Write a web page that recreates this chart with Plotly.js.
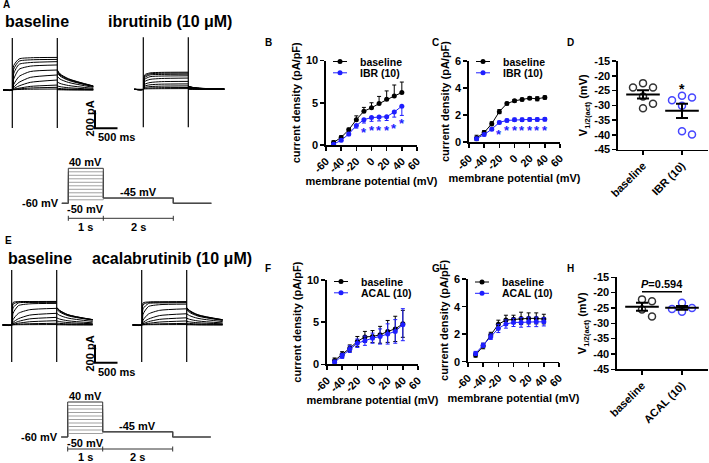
<!DOCTYPE html>
<html><head><meta charset="utf-8">
<script src="https://cdn.plot.ly/plotly-3.0.1.min.js"></script>
<style>html,body{margin:0;padding:0;background:#fff}#chart{width:709px;height:463px}</style>
</head><body><div id="chart"></div>
<script>
// ================= DATA =================
const voltages = [-50,-40,-30,-20,-10,0,10,20,30,40];   // test potentials (mV)

// Panel B – ibrutinib I-V
const B_baseline        = [0.3,0.9,1.8,3.0,4.0,4.4,4.9,5.4,5.8,6.2];
const B_baseline_errUp  = [0.2,0.2,0.2,0.45,0.45,0.6,0.85,1.0,1.3,1.25];
const B_ibr             = [0.1,0.55,1.3,2.3,3.0,3.25,3.3,3.35,3.9,4.6];
const B_ibr_errDown     = [0.1,0.15,0.2,0.3,0.4,0.45,0.45,0.45,0.6,1.1];
const B_starV           = [-10,0,10,20,30,40];
const B_starY           = [1.95,2.1,2.1,2.1,2.4,3.0];

// Panel C – ibrutinib I-V (second cell group)
const C_baseline     = [0.3,0.7,1.35,2.25,2.85,3.05,3.15,3.25,3.2,3.3];
const C_baseline_err = [0.2,0.15,0.15,0.15,0.1,0.1,0.1,0.1,0.15,0.12];
const C_ibr          = [0.25,0.55,0.95,1.45,1.6,1.65,1.65,1.67,1.67,1.68];
const C_ibr_err      = [0.1,0.1,0.1,0.1,0.1,0.12,0.12,0.12,0.12,0.12];
const C_starV        = [-20,-10,0,10,20,30,40];
const C_starY        = [0.85,1.1,1.1,1.1,1.1,1.1,1.1];

// Panel D – V1/2 of activation
const D_categories = ['baseline','IBR (10)'];
const D_baseline   = [-22.5,-24.0,-24.0,-27.0,-29.5,-31.0];
const D_ibr        = [-26.8,-27.4,-28.3,-30.2,-38.8,-39.9];
const D_starY      = -23.2;

// Panel F – acalabrutinib I-V
const F_baseline     = [0.45,1.15,1.9,2.7,3.25,3.3,3.5,3.9,4.2,4.8];
const F_baseline_err = [0.3,0.35,0.4,0.6,0.65,0.7,1.0,1.3,1.5,1.6];
const F_acal         = [0.25,1.0,1.8,2.5,2.8,3.1,3.3,3.6,3.9,4.7];
const F_acal_err     = [0.25,0.3,0.4,0.5,0.55,0.6,0.9,1.2,1.4,1.9];

// Panel G – acalabrutinib I-V
const G_baseline     = [0.48,1.14,1.94,2.72,3.03,3.08,3.15,3.15,3.15,3.1];
const G_baseline_err = [0.15,0.2,0.2,0.3,0.35,0.3,0.45,0.4,0.4,0.35];
const G_acal         = [0.6,1.2,1.82,2.42,2.74,2.86,2.86,2.9,2.9,2.9];
const G_acal_err     = [0.15,0.15,0.2,0.3,0.3,0.3,0.35,0.35,0.35,0.3];

// Panel H
const H_categories = ['baseline','ACAL (10)'];
const H_baseline   = [-22.2,-22.8,-25.5,-27.8];
const H_acal       = [-23.3,-25.0,-25.3,-26.2];
const H_pText      = '<i>P</i>=0.594';
const H_pLineY     = -19.7;
const H_pTextY     = -17.1;

// Raw current recordings (pA) sampled at these times
const tracePre    = -200;                 // ms before step
const stepSampleT = [30,150,400,1000];    // ms after step onset
const tailSampleT = [0,60,250,800];       // ms after step end
const A_base_step = [[3,6,9,11],[5,12,22,30],[8,20,40,55],[15,45,85,111],[30,85,140,167],[60,150,205,222],[120,230,265,278],[180,285,305,315],[230,320,335,340],[270,345,358,362]];
const A_base_tail = [[3,2,1,0],[8,7,4,2],[20,16,11,4],[45,37,25,9],[90,73,50,18],[150,122,84,30],[190,155,107,38],[205,166,115,41],[215,174,121,43],[222,180,125,45]];
const A_ibr_step  = [[4,6,7,8],[10,15,18,20],[20,30,35,38],[35,50,57,60],[55,75,85,88],[85,110,120,125],[110,140,147,150],[130,160,165,168],[145,172,178,180],[160,182,188,190]];
const A_ibr_tail  = [[1,1,0,0],[3,2,1,0],[6,4,2,1],[12,8,4,1],[20,14,6,2],[28,19,9,3],[32,22,10,3],[35,24,11,4],[36,24,12,4],[37,25,12,4]];
const E_base_step = [[2,3,4,5],[4,9,14,19],[8,20,36,48],[15,40,68,85],[30,70,110,130],[60,130,170,185],[130,215,235,240],[190,245,250,252],[230,255,257,258],[250,260,261,262]];
const E_base_tail = [[2,2,1,1],[8,7,5,3],[22,18,13,7],[45,38,27,14],[80,67,47,24],[130,109,77,40],[175,147,103,54],[188,158,110,58],[193,162,113,59],[196,165,115,60]];
const E_acal_step = [[2,3,4,5],[4,8,13,18],[8,18,33,45],[14,37,63,80],[28,66,105,125],[55,122,163,180],[120,205,226,232],[180,238,245,248],[225,250,253,255],[245,256,258,260]];
const E_acal_tail = [[2,2,1,1],[7,6,4,2],[20,17,12,6],[42,35,25,13],[76,64,45,23],[125,105,74,38],[168,141,99,51],[182,153,107,55],[190,159,111,58],[194,163,114,59]];
const A_spike = [577,-422];
const E_spike = [611,-411];
const scaleBar_pA = 200, scaleBar_ms = 500;

// Voltage protocol
const protoHold = -60, protoTail = -45;
const protoPre = 184, protoStepDur = 1000, protoTailDur = 2000, protoPost = 1085;

// ================= LAYOUT HELPERS =================
const W = 709, H = 463;
const FONT = 'Liberation Sans, Arial, Helvetica, sans-serif';
const BLUE = '#1e1eff', BLUE_OPEN = '#4646ff', DARK = '#333';
const fnt = (size, color) => ({family: FONT, size: size, color: color || '#000', weight: 'bold'});
const px = x => x / W, py = y => 1 - y / H;
function calib(p0, v0, p1, v1) { const k = (v1 - v0) / (p1 - p0); return p => v0 + (p - p0) * k; }
function hx(d0, d1, f, anchor) { return {domain:[px(d0),px(d1)], range:[f(d0),f(d1)], visible:false, fixedrange:true, anchor:anchor}; }
function hy(d0, d1, f, anchor) { return {domain:[py(d1),py(d0)], range:[f(d1),f(d0)], visible:false, fixedrange:true, anchor:anchor}; }
const axStyle = {showline:true, linecolor:'#000', linewidth:1.6, ticks:'outside', ticklen:4, tickwidth:1.5,
  tickcolor:'#000', showgrid:false, zeroline:false, fixedrange:true, tickfont:fnt(11)};
function vx(d0, d1, range, anchor, extra) { return Object.assign({domain:[px(d0),px(d1)], range:range, anchor:anchor}, axStyle, extra); }
function vy(d0, d1, range, anchor, extra) { return Object.assign({domain:[py(d1),py(d0)], range:range, anchor:anchor}, axStyle, extra); }
const tickObj = vals => ({tickmode:'array', tickvals:vals, ticktext:vals.map(String)});
const ivX = [-60,-40,-20,0,20,40,60];

const layout = {
  width: W, height: H, margin:{l:0,r:0,t:0,b:0}, paper_bgcolor:'#fff', plot_bgcolor:'rgba(0,0,0,0)',
  showlegend:false, font: fnt(11), annotations: [], shapes: []
};

// calibrations (pixel positions of the picture)
const fA1x = calib(12.3,0,57.3,1000), fA1y = calib(90,0,72,200);
const fA2x = calib(143.3,0,188.3,1000), fA2y = calib(89.3,0,71.3,200);
const fA3x = calib(68.3,0,103.3,1000), fA3y = calib(203.3,-60,168.3,40);
const fE1x = calib(11.7,0,56.7,1000), fE1y = calib(325,0,307,200);
const fE2x = calib(141.7,0,186.7,1000);
const fE3x = calib(67.7,0,102.7,1000), fE3y = calib(437,-60,402,40);
const fDx = calib(643,0,682,1), fHx = calib(642,0,682,1);

layout.xaxis  = hx(0,125,fA1x,'y');   layout.yaxis  = hy(30,140,fA1y,'x');
layout.xaxis2 = hx(128,232,fA2x,'y2'); layout.yaxis2 = hy(30,140,fA2y,'x2');
layout.xaxis3 = hx(40,232,fA3x,'y3');  layout.yaxis3 = hy(150,215,fA3y,'x3');
layout.xaxis7 = hx(0,125,fE1x,'y7');   layout.yaxis7 = hy(265,375,fE1y,'x7');
layout.xaxis8 = hx(128,232,fE2x,'y8'); layout.yaxis8 = hy(265,375,fE1y,'x8');
layout.xaxis9 = hx(40,232,fE3x,'y9');  layout.yaxis9 = hy(385,450,fE3y,'x9');

const ivYTitle = {text:'current density (pA/pF)', font:fnt(11), standoff:3};
const ivXTitle = {text:'membrane potential (mV)', font:fnt(11), standoff:3};
const vTitle = {text:'V<sub>1/2(act)</sub> (mV)', font:fnt(11), standoff:4};
layout.xaxis4  = vx(326,417,[-60,60],'y4', Object.assign({tickangle:-45, title:ivXTitle}, tickObj(ivX)));
layout.yaxis4  = vy(60.5,145,[0,10],'x4', Object.assign({title:ivYTitle}, tickObj([0,5,10])));
layout.xaxis5  = vx(469,560,[-60,60],'y5', Object.assign({tickangle:-45, title:ivXTitle}, tickObj(ivX)));
layout.yaxis5  = vy(61,142,[0,6],'x5', Object.assign({title:ivYTitle}, tickObj([0,2,4,6])));
layout.xaxis6  = vx(618,708,[fDx(618),fDx(708)],'y6', {tickangle:-45, tickmode:'array', tickvals:[0,1], ticktext:D_categories});
layout.yaxis6  = vy(61,149.5,[-45,-15],'x6', Object.assign({title:vTitle}, tickObj([-45,-40,-35,-30,-25,-20,-15])));
layout.xaxis10 = vx(327,418,[-60,60],'y10', Object.assign({tickangle:-45, title:ivXTitle}, tickObj(ivX)));
layout.yaxis10 = vy(280,364.3,[0,10],'x10', Object.assign({title:ivYTitle}, tickObj([0,5,10])));
layout.xaxis11 = vx(468,559,[-60,60],'y11', Object.assign({tickangle:-45, title:ivXTitle}, tickObj(ivX)));
layout.yaxis11 = vy(279.2,361.7,[0,6],'x11', Object.assign({title:ivYTitle}, tickObj([0,2,4,6])));
layout.xaxis12 = vx(617,708,[fHx(617),fHx(708)],'y12', {tickangle:-45, tickmode:'array', tickvals:[0,1], ticktext:H_categories});
layout.yaxis12 = vy(277.3,369.3,[-45,-15],'x12', Object.assign({title:vTitle}, tickObj([-45,-40,-35,-30,-25,-20,-15])));

const traces = [];
const ann = (o) => layout.annotations.push(Object.assign({showarrow:false}, o));

// ---------- raw current recordings ----------
function recording(stepArr, tailArr, spike, xa, ya) {
  stepArr.forEach((s, i) => {
    const xs = [tracePre, 0].concat(stepSampleT), ys = [0, 0].concat(s);
    traces.push({type:'scatter', mode:'lines', x:xs, y:ys, xaxis:xa, yaxis:ya,
      line:{color:'#000', width:1, shape:'spline', smoothing:0.6}, hoverinfo:'skip', cliponaxis:false});
    traces.push({type:'scatter', mode:'lines', x:tailSampleT.map(t => protoStepDur + t), y:tailArr[i], xaxis:xa, yaxis:ya,
      line:{color:'#000', width:1, shape:'spline', smoothing:0.8}, hoverinfo:'skip', cliponaxis:false});
  });
  traces.push({type:'scatter', mode:'lines', x:[0,0,null,protoStepDur,protoStepDur],
    y:[spike[0],spike[1],null,spike[0],spike[1]], xaxis:xa, yaxis:ya, line:{color:'#000', width:1.2}, hoverinfo:'skip', cliponaxis:false});
}
recording(A_base_step, A_base_tail, A_spike, 'x', 'y');
recording(A_ibr_step, A_ibr_tail, A_spike, 'x2', 'y2');
recording(E_base_step, E_base_tail, E_spike, 'x7', 'y7');
recording(E_acal_step, E_acal_tail, E_spike, 'x8', 'y8');

// scale bars
function scaleBar(xa, ya, fx, fy, cornerPx, cornerPy, txtY, msY) {
  const x0 = fx(cornerPx), y0 = fy(cornerPy);
  traces.push({type:'scatter', mode:'lines', x:[x0, x0, x0 + scaleBar_ms], y:[y0 + scaleBar_pA, y0, y0],
    xaxis:xa, yaxis:ya, line:{color:'#000', width:2}, hoverinfo:'skip', cliponaxis:false});
  ann({xref:'paper', yref:'paper', x:px(cornerPx - 5.5), y:py(txtY), text:scaleBar_pA + ' pA', textangle:-90,
    xanchor:'center', yanchor:'middle', font:fnt(11)});
  ann({xref:'paper', yref:'paper', x:px(cornerPx + 1), y:py(msY), text:scaleBar_ms + ' ms', xanchor:'left', yanchor:'middle', font:fnt(11)});
}
scaleBar('x', 'y', fA1x, fA1y, 95, 128.3, 119, 137);
scaleBar('x7', 'y7', fE1x, fE1y, 95, 362.7, 354, 372);

// ---------- voltage protocol ----------
function protocol(xa, ya, barPy, labelPy) {
  voltages.forEach((v, i) => {
    const t1 = protoStepDur, t2 = protoStepDur + protoTailDur;
    traces.push({type:'scatter', mode:'lines', x:[-protoPre,0,0,t1,t1,t2,t2,t2 + protoPost],
      y:[protoHold,protoHold,v,v,protoTail,protoTail,protoHold,protoHold], xaxis:xa, yaxis:ya,
      line:{color: i === voltages.length - 1 ? '#333' : '#a0a0a0', width:1}, hoverinfo:'skip', cliponaxis:false});
  });
  const vmax = Math.max(...voltages), vmin = Math.min(...voltages);
  ann({xref:xa, yref:ya, x:protoStepDur/2, y:vmax, yshift:6, text:vmax + ' mV', xanchor:'center', yanchor:'middle', font:fnt(11)});
  ann({xref:xa, yref:ya, x:protoStepDur/2, y:protoHold, yshift:-6, text:vmin + ' mV', xanchor:'center', yanchor:'middle', font:fnt(11)});
  ann({xref:xa, yref:ya, x:-protoPre, y:protoHold, xshift:-1, text:protoHold + ' mV', xanchor:'right', yanchor:'middle', font:fnt(11)});
  ann({xref:xa, yref:ya, x:protoStepDur + protoTailDur/2, y:protoTail, yshift:6, text:protoTail + ' mV', xanchor:'center', yanchor:'middle', font:fnt(11)});
  const t1 = protoStepDur, t2 = protoStepDur + protoTailDur;
  const lineSh = (x0, x1, y0, y1) => layout.shapes.push({type:'line', xref:xa, yref:'paper', x0, x1, y0:py(y0), y1:py(y1), line:{color:'#333', width:1}});
  lineSh(0, t2, barPy, barPy);
  [0, t1, t2].forEach(t => lineSh(t, t, barPy - 2.5, barPy + 2.5));
  ann({xref:xa, yref:'paper', x:t1/2, y:py(labelPy), text:(protoStepDur/1000) + ' s', xanchor:'center', yanchor:'middle', font:fnt(11)});
  ann({xref:xa, yref:'paper', x:t1 + protoTailDur/2, y:py(labelPy), text:(protoTailDur/1000) + ' s', xanchor:'center', yanchor:'middle', font:fnt(11)});
}
protocol('x3', 'y3', 218.3, 226.8);
protocol('x9', 'y9', 449, 456.5);

// ---------- I-V panels ----------
const zeros = voltages.map(() => 0);
function ivSeries(y, errUp, errDown, color, xa, ya) {
  traces.push({type:'scatter', mode:'lines+markers', x:voltages, y:y, xaxis:xa, yaxis:ya,
    line:{color:color, width:1}, marker:{color:color, size:5},
    error_y:{type:'data', symmetric:false, array:errUp, arrayminus:errDown, color:color, thickness:1, width:2},
    hoverinfo:'skip', cliponaxis:false});
}
ivSeries(B_baseline, B_baseline_errUp, zeros, '#000', 'x4', 'y4');
ivSeries(B_ibr, zeros, B_ibr_errDown, BLUE, 'x4', 'y4');
ivSeries(C_baseline, C_baseline_err, C_baseline_err, '#000', 'x5', 'y5');
ivSeries(C_ibr, C_ibr_err, C_ibr_err, BLUE, 'x5', 'y5');
ivSeries(F_baseline, F_baseline_err, F_baseline_err, '#000', 'x10', 'y10');
ivSeries(F_acal, F_acal_err, F_acal_err, BLUE, 'x10', 'y10');
ivSeries(G_baseline, G_baseline_err, G_baseline_err, '#000', 'x11', 'y11');
ivSeries(G_acal, G_acal_err, G_acal_err, BLUE, 'x11', 'y11');

function stars(vs, ys, xa, ya, color) {
  vs.forEach((v, i) => ann({xref:xa, yref:ya, x:v, y:ys[i], yshift:-3.5, text:'*', xanchor:'center', yanchor:'middle', font:fnt(13, color)}));
}
stars(B_starV, B_starY, 'x4', 'y4', BLUE);
stars(C_starV, C_starY, 'x5', 'y5', BLUE);

// manual legends (two rows, 11 px apart)
function legend(axisPx, yPx, color, label) {
  layout.shapes.push({type:'line', xref:'paper', yref:'paper', x0:px(axisPx + 7), x1:px(axisPx + 21), y0:py(yPx), y1:py(yPx), line:{color:color, width:1}});
  layout.shapes.push({type:'circle', xref:'paper', yref:'paper', x0:px(axisPx + 11.5), x1:px(axisPx + 16.5), y0:py(yPx + 2.5), y1:py(yPx - 2.5), fillcolor:color, line:{color:color, width:0}});
  ann({xref:'paper', yref:'paper', x:px(axisPx + 32), y:py(yPx), text:label, xanchor:'left', yanchor:'middle', font:fnt(10.5)});
}
legend(326, 61.5, '#000', 'baseline'); legend(326, 72.8, BLUE, 'IBR (10)');
legend(469, 61.5, '#000', 'baseline'); legend(469, 72.8, BLUE, 'IBR (10)');
legend(327, 281.5, '#000', 'baseline'); legend(327, 292.8, BLUE, 'ACAL (10)');
legend(468, 282, '#000', 'baseline'); legend(468, 293.3, BLUE, 'ACAL (10)');

// ---------- column scatter panels ----------
function swarm(vals, pxPerUnitY, step, minDist) {
  const order = vals.map((v, i) => i).sort((a, b) => vals[b] - vals[a]);
  const placed = [], off = new Array(vals.length).fill(0);
  order.forEach(i => {
    for (let k = 0; k < 20; k++) {
      const o = (k === 0) ? 0 : (k % 2 ? 1 : -1) * Math.ceil(k / 2) * step;
      const ok = placed.every(p => Math.hypot(p.o - o, (p.v - vals[i]) * pxPerUnitY) >= minDist);
      if (ok) { off[i] = o; placed.push({o:o, v:vals[i]}); break; }
    }
  });
  return off;
}
function column(vals, cat, color, xa, ya, pxPerCat, pxPerUnitY) {
  const off = swarm(vals, pxPerUnitY, 10, 7.5);
  traces.push({type:'scatter', mode:'markers', x:off.map(o => cat + o / pxPerCat), y:vals, xaxis:xa, yaxis:ya,
    marker:{symbol:'circle-open', size:7, color:color, line:{width:1.5, color:color}}, hoverinfo:'skip', cliponaxis:false});
  const n = vals.length, mean = vals.reduce((a, b) => a + b, 0) / n;
  const sd = Math.sqrt(vals.reduce((a, b) => a + (b - mean) * (b - mean), 0) / (n - 1));
  traces.push({type:'scatter', mode:'markers', x:[cat], y:[mean], xaxis:xa, yaxis:ya,
    marker:{symbol:'line-ew', size:24, color:'#000', line:{width:2, color:'#000'}},
    error_y:{type:'data', array:[sd / Math.sqrt(n)], color:'#000', thickness:2, width:6}, hoverinfo:'skip', cliponaxis:false});
}
column(D_baseline, 0, DARK, 'x6', 'y6', 39, 88.5 / 30);
column(D_ibr, 1, BLUE_OPEN, 'x6', 'y6', 39, 88.5 / 30);
ann({xref:'x6', yref:'y6', x:1, y:D_starY, yshift:-3.5, text:'*', xanchor:'center', yanchor:'middle', font:fnt(14)});
column(H_baseline, 0, DARK, 'x12', 'y12', 40, 92 / 30);
column(H_acal, 1, BLUE_OPEN, 'x12', 'y12', 40, 92 / 30);
traces.push({type:'scatter', mode:'lines', x:[0, 1], y:[H_pLineY, H_pLineY], xaxis:'x12', yaxis:'y12', line:{color:'#000', width:1.5}, hoverinfo:'skip', cliponaxis:false});
ann({xref:'x12', yref:'y12', x:0.5, y:H_pTextY, text:H_pText, xanchor:'center', yanchor:'middle', font:fnt(11)});

// ---------- headings & panel letters ----------
const heading = (x, y, t) => ann({xref:'paper', yref:'paper', x:px(x), y:py(y), text:t, xanchor:'left', yanchor:'middle', font:fnt(16)});
heading(3, 21.5, 'baseline'); heading(106, 21.5, 'ibrutinib (10 μM)');
heading(6, 258, 'baseline'); heading(90, 258, 'acalabrutinib (10 μM)');
const letter = (x, y, t) => ann({xref:'paper', yref:'paper', x:px(x), y:py(y), text:t, xanchor:'left', yanchor:'middle', font:fnt(10)});
letter(1, 5, 'A'); letter(3, 240, 'E');
letter(263, 43, 'B'); letter(430, 43, 'C'); letter(565, 43, 'D');
letter(263, 268, 'F'); letter(430, 268, 'G'); letter(565, 268, 'H');

Plotly.newPlot('chart', traces, layout, {staticPlot:true, displayModeBar:false});
</script>
</body></html>
